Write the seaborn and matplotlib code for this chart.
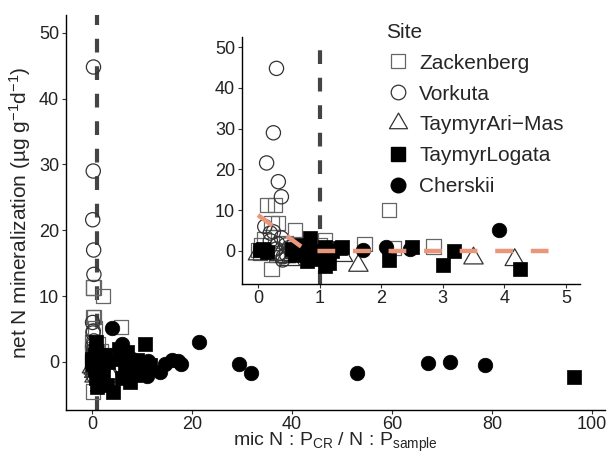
import numpy as np
import pandas as pd
import matplotlib
matplotlib.use("Agg")
import matplotlib.pyplot as plt
import seaborn as sns
from matplotlib.lines import Line2D
from matplotlib.path import Path

# ---------------- data ----------------
site_order = ["Zackenberg", "Vorkuta", "TaymyrAri\u2212Mas", "TaymyrLogata", "Cherskii"]

zack_x = [0.0, 0.14, 0.28, 0.22, 0.33, 0.6, 0.22, 0.57, 1.09, 2.13, 1.73, 2.2, 2.85,
          0.05, 0.3, 0.45, 5.8, 1.0, 0.1, 0.03]
zack_y = [0.2, 11.3, 11.3, 6.8, 6.8, 5.1, -4.5, 0.0, 2.7, 10.0, 1.7, 0.7, 1.1,
          1.5, -1.0, 2.0, 5.3, 1.5, 3.0, -0.5]

vork_x = [0.30, 0.25, 0.14, 0.33, 0.38, 0.11, 0.20, 0.25, 0.38, 0.41, 0.30, 0.45,
          0.20, 0.35, 0.50, 0.40, 0.32, 0.46]
vork_y = [44.8, 29.0, 21.6, 17.0, 13.3, 6.0, 4.4, 4.7, 3.2, -1.4, 0.5, 1.5,
          2.5, -0.5, 0.8, -2.2, 1.8, -0.8]

ari_x = [1.38, 1.63, 3.5, 4.17, 0.52, 0.45, 0.35, 0.60, 0.0]
ari_y = [-1.2, -3.6, -1.8, -2.2, -2.2, -1.5, -1.0, -0.5, -0.8]

log_x = [0.03, 0.08, 0.15, 0.84, 1.09, 1.09, 1.36, 1.33, 2.12, 3.18, 4.25, 0.55,
         0.65, 0.75, 0.90, 1.00, 1.15, 0.95, 0.70, 0.60, 0.80, 1.20,
         5.5, 6.5, 7.0, 8.0, 9.0, 10.6, 7.5, 6.0, 9.5, 11.5, 96.4, 5.4, 8.5, 3.0, 2.5]
log_y = [0.2, 0.5, -0.3, 3.1, 1.0, -3.8, 1.0, 0.7, -2.2, 0.0, -4.5, 0.5,
         1.0, -0.5, -1.5, -2.0, -3.0, 0.0, 1.5, -1.0, -2.5, 0.0,
         0.5, -1.5, 1.5, -0.8, 0.3, 2.7, -3.0, -2.5, -1.0, -0.5, -2.3, 2.0, -2.0, -3.5, 1.0]

cher_x = [1.71, 2.08, 2.47, 3.92, 5.9, 21.3, 29.3, 31.7, 53.0, 67.2, 71.6, 78.5,
          11.2, 14.6, 17.2, 17.8, 13.6, 11.0, 8.0, 9.5, 16.0]
cher_y = [0.2, 1.0, 0.4, 5.1, 2.7, 3.0, -0.3, -1.7, -1.7, -0.2, 0.0, -0.5,
          0.2, -0.3, 0.2, -0.3, -1.5, -2.1, 0.5, 0.0, 0.3]

fit_x = [0.0, 0.8, 4.9]
fit_y = [8.8, 0.0, 0.0]

threshold = 1.0

main_xticks = [0, 20, 40, 60, 80, 100]
inset_xticks = [0, 1, 2, 3, 4, 5]
yticks = [0, 10, 20, 30, 40, 50]

frames = []
for name, xs, ys in zip(site_order, [zack_x, vork_x, ari_x, log_x, cher_x],
                        [zack_y, vork_y, ari_y, log_y, cher_y]):
    frames.append(pd.DataFrame({"Site": name, "x": xs, "y": ys}))
df = pd.concat(frames, ignore_index=True)

# ---------------- style ----------------
sns.set_theme(style="white")
plt.rcParams["font.family"] = ["Liberation Sans", "DejaVu Sans"]
plt.rcParams["mathtext.fontset"] = "custom"
plt.rcParams["mathtext.rm"] = "Liberation Sans"
plt.rcParams["mathtext.it"] = "Liberation Sans:italic"
plt.rcParams["mathtext.default"] = "regular"

tri = Path([(-1, -0.577), (1, -0.577), (0, 1.155), (-1, -0.577)],
           [Path.MOVETO, Path.LINETO, Path.LINETO, Path.CLOSEPOLY])
styles = {
    "Zackenberg": dict(marker="s", s=105, fc="none", ec="#666666", lw=0.9),
    "Vorkuta": dict(marker="o", s=105, fc="none", ec="#333333", lw=0.9),
    "TaymyrAri\u2212Mas": dict(marker=tri, s=260, fc="none", ec="#333333", lw=0.9),
    "TaymyrLogata": dict(marker="s", s=110, fc="black", ec="black", lw=0.5),
    "Cherskii": dict(marker="o", s=110, fc="black", ec="black", lw=0.5),
}

fig = plt.figure(figsize=(6.07, 4.58), dpi=100)
ax = fig.add_axes([66 / 607, 1 - 410 / 458, (605 - 66) / 607, (410 - 15) / 458])
axin = fig.add_axes([242 / 607, 1 - 284 / 458, (580 - 242) / 607, (284 - 37) / 458])
axin.patch.set_alpha(0)


def draw_points(a):
    for name in site_order:
        d = df[df["Site"] == name]
        st = styles[name]
        sns.scatterplot(data=d, x="x", y="y", marker=st["marker"], s=st["s"],
                        facecolor=st["fc"], edgecolor=st["ec"], linewidth=st["lw"],
                        ax=a, legend=False, zorder=3)


def style_axes(a):
    for sp in ["top", "right"]:
        a.spines[sp].set_visible(False)
    for sp in ["left", "bottom"]:
        a.spines[sp].set_color("black")
        a.spines[sp].set_linewidth(1.0)
    a.tick_params(bottom=True, left=True, length=3, width=0.8, color="#333333",
                  labelsize=13, labelcolor="#222222", pad=2)
    a.tick_params(axis="x", pad=1)
    a.grid(False)


# main plot
draw_points(ax)
ax.axvline(threshold, color="#444444", lw=3, dashes=(3.3, 3.3), zorder=2)
ax.set_xlim(-5.2, 102.6)
ax.set_ylim(-7.3, 52.7)
ax.set_xticks(main_xticks)
ax.set_yticks(yticks)
style_axes(ax)
ax.set_xlabel(r"mic N : P$_{CR}$ / N : P$_{sample}$", fontsize=14, labelpad=-1)
ax.set_ylabel(r"net N mineralization (µg g$^{-1}$d$^{-1}$)", fontsize=15, labelpad=4)

# inset
draw_points(axin)
axin.axvline(threshold, color="#444444", lw=3, dashes=(3.3, 3.3), zorder=2)
sns.lineplot(x=fit_x, y=fit_y, color="#E9967A", lw=3.2, ax=axin, zorder=4)
axin.lines[-1].set_dashes((4, 4))
axin.set_xlim(-0.26, 5.23)
axin.set_ylim(-8.1, 52.5)
axin.set_xticks(inset_xticks)
axin.set_yticks(yticks)
style_axes(axin)
axin.set_xlabel("")
axin.set_ylabel("")

# legend
handles = [
    Line2D([], [], ls="none", marker="s", ms=10, mfc="none", mec="#666666", mew=0.9),
    Line2D([], [], ls="none", marker="o", ms=10.5, mfc="none", mec="#333333", mew=0.9),
    Line2D([], [], ls="none", marker=tri, ms=15, mfc="none", mec="#333333", mew=0.9),
    Line2D([], [], ls="none", marker="s", ms=10, mfc="black", mec="black"),
    Line2D([], [], ls="none", marker="o", ms=10.5, mfc="black", mec="black"),
]
leg = fig.legend(handles, site_order, title="Site", loc="upper left",
                 bbox_to_anchor=(367 / 607, 1 - 4 / 458), frameon=False,
                 fontsize=15, title_fontsize=15, labelspacing=0.57,
                 handletextpad=0.4, handlelength=1.2, alignment="left")

fig.savefig("out.png", dpi=100)
